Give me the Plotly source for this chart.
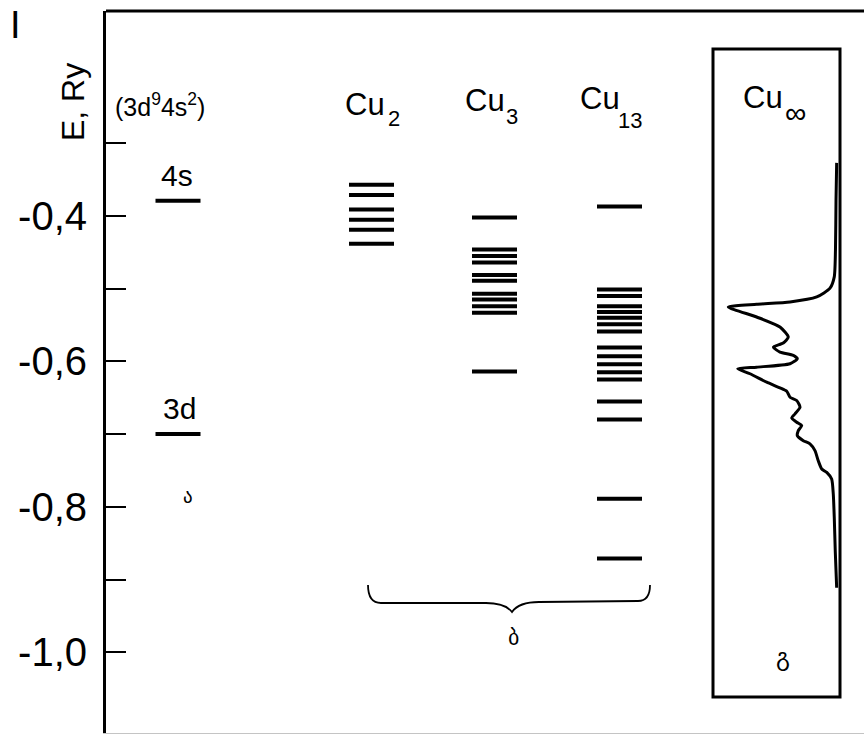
import plotly.graph_objects as go

# ---------------- data ----------------
atom_levels = [-0.379, -0.700]
atom_labels = ["4s", "3d"]
cu2_levels = [-0.357, -0.371, -0.391, -0.405, -0.419, -0.438]
cu3_levels = [-0.402, -0.446, -0.455, -0.464, -0.481, -0.489,
              -0.507, -0.515, -0.524, -0.533, -0.614]
cu13_levels = [-0.387, -0.501, -0.510, -0.524, -0.532, -0.540, -0.549,
               -0.559, -0.581, -0.593, -0.604, -0.615, -0.625, -0.655,
               -0.680, -0.789, -0.871]
cluster_base = ["Cu", "Cu", "Cu", "Cu"]
cluster_subs = ["2", "3", "13", "∞"]
config_label = "(3d<sup>9</sup>4s<sup>2</sup>)"

dos_energy = [-0.3269, -0.3779, -0.4469, -0.4837, -0.4993, -0.5113, -0.5182,
              -0.5214, -0.5251, -0.5389, -0.5527, -0.5665, -0.5748, -0.5803,
              -0.5872, -0.5917, -0.5963, -0.6032, -0.6079, -0.6101, -0.6170,
              -0.6286, -0.6363, -0.6410, -0.6493, -0.6538, -0.6630, -0.6721,
              -0.6777, -0.6837, -0.6883, -0.6952, -0.7021, -0.7090, -0.7135,
              -0.7228, -0.7366, -0.7480, -0.7527, -0.7618, -0.7825, -0.8148,
              -0.8607, -0.9113]
dos_value = [0.003, 0.009, 0.014, 0.025, 0.064, 0.186, 0.431,
             0.737, 0.997, 0.737, 0.523, 0.447, 0.493, 0.584,
             0.523, 0.401, 0.364, 0.431, 0.737, 0.911, 0.798,
             0.645, 0.523, 0.461, 0.431, 0.370, 0.339, 0.385,
             0.416, 0.370, 0.324, 0.355, 0.364, 0.309, 0.248,
             0.202, 0.172, 0.140, 0.094, 0.049, 0.034, 0.025,
             0.016, 0.003]

y_tickvals = [-0.3, -0.4, -0.5, -0.6, -0.7, -0.8, -0.9, -1.0]
y_ticktext = ["", "-0,4", "", "-0,6", "", "-0,8", "", "-1,0"]
panel_marks = ["ა", "ბ", "გ"]
figure_mark = "I"

# ---------------- layout constants ----------------
W, H = 864, 735
L, T, B, R = 106, 11, 2, 0
PW, PH = W - L - R, H - T - B
FONT = "Liberation Sans, Arial, sans-serif"
GEO = "DejaVu Sans, Noto Sans, sans-serif"


def px(x):  # pixel -> paper x
    return (x - L) / PW


def py(y):  # pixel -> paper y
    return (H - B - y) / PH


col_centers = [178, 371.5, 494.5, 619.5]
half_w = 22.5


def level_trace(center, levels):
    xs, ys = [], []
    for e in levels:
        xs += [center - half_w, center + half_w, None]
        ys += [e, e, None]
    return go.Scatter(x=xs, y=ys, mode="lines",
                      line=dict(color="black", width=4),
                      hoverinfo="skip", showlegend=False)


fig = go.Figure()
for c, lv in zip(col_centers, [atom_levels, cu2_levels, cu3_levels, cu13_levels]):
    fig.add_trace(level_trace(c, lv))

fig.add_trace(go.Scatter(x=dos_value, y=dos_energy, mode="lines",
                         xaxis="x2", yaxis="y",
                         line=dict(color="black", width=3, shape="spline", smoothing=0.6),
                         hoverinfo="skip", showlegend=False))

box_l, box_r = 713, 840
dos_zero_px, dos_scale = 837, 109.0

fig.update_layout(
    width=W, height=H,
    margin=dict(l=L, r=R, t=T, b=B, pad=0),
    paper_bgcolor="white", plot_bgcolor="white",
    font=dict(family=FONT, color="black"),
    xaxis=dict(range=[L, W - R], domain=[0, 1], showgrid=False, zeroline=False,
               showticklabels=False, ticks="", showline=True,
               linecolor="#c4c4c4", linewidth=1, fixedrange=True),
    xaxis2=dict(anchor="y", domain=[px(box_l), px(box_r)],
                range=[(dos_zero_px - box_l) / dos_scale, (dos_zero_px - box_r) / dos_scale],
                showgrid=False, zeroline=False, showticklabels=False,
                ticks="", showline=False),
    yaxis=dict(range=[-0.4 - (H - B - 216) / 727, -0.4 + (216 - T) / 727],
               showgrid=False, zeroline=False,
               tickvals=y_tickvals, ticktext=y_ticktext,
               ticks="inside", ticklen=20, tickwidth=1.5, tickcolor="black",
               tickfont=dict(size=40, family=FONT),
               ticklabelstandoff=8,
               showline=True, linecolor="black", linewidth=3),
)

shapes = [
    dict(type="line", xref="paper", yref="paper", x0=0, x1=1, y0=1, y1=1,
         line=dict(color="black", width=3)),
    dict(type="rect", xref="paper", yref="paper",
         x0=px(box_l), x1=px(box_r), y0=py(697), y1=py(49),
         line=dict(color="black", width=3)),
]

brace_pts = [("M", 368, 585), ("Q", 368, 603, 381, 603), ("L", 486, 603),
             ("Q", 505, 603, 512, 612), ("Q", 519, 602, 539, 602),
             ("L", 638, 601), ("Q", 650, 601, 650, 585)]
path = ""
for cmd in brace_pts:
    path += cmd[0] + " "
    coords = cmd[1:]
    for i in range(0, len(coords), 2):
        path += f"{px(coords[i]):.5f},{py(coords[i + 1]):.5f} "
shapes.append(dict(type="path", xref="paper", yref="paper", path=path.strip(),
                   line=dict(color="black", width=1.8)))
fig.update_layout(shapes=shapes)

ann = []


def add_text(text, x, y, size, family=FONT, angle=0, xanchor="center", yanchor="middle"):
    ann.append(dict(text=text, x=px(x), y=py(y), xref="paper", yref="paper",
                    showarrow=False, xanchor=xanchor, yanchor=yanchor,
                    textangle=angle, font=dict(size=size, family=family, color="black")))


add_text(figure_mark, 15, 2, 38, yanchor="top")
add_text("E, Ry", 73, 102, 32, angle=-90)
add_text(config_label, 160, 105, 25)
add_text(atom_labels[0], 177, 175, 30)
add_text(atom_labels[1], 179, 408, 30)

base_pos = [(365, 104), (484.5, 100), (599.5, 99), (763, 98)]
sub_pos = [(386, 118), (504, 116), (616, 120), (783, 113)]
for name, sub, (bx, by), (sx, sy) in zip(cluster_base, cluster_subs, base_pos, sub_pos):
    add_text(name, bx, by, 31)
    if sub == "∞":
        add_text(sub, sx, sy, 30, family=FONT, xanchor="left")
    else:
        add_text(sub, sx, sy, 22, xanchor="left")

add_text(panel_marks[0], 188, 496, 19, GEO)
add_text(panel_marks[1], 513, 637, 22, GEO)
add_text(panel_marks[2], 783, 657, 24, GEO)
fig.update_layout(annotations=ann)

fig.write_html("out.html")
